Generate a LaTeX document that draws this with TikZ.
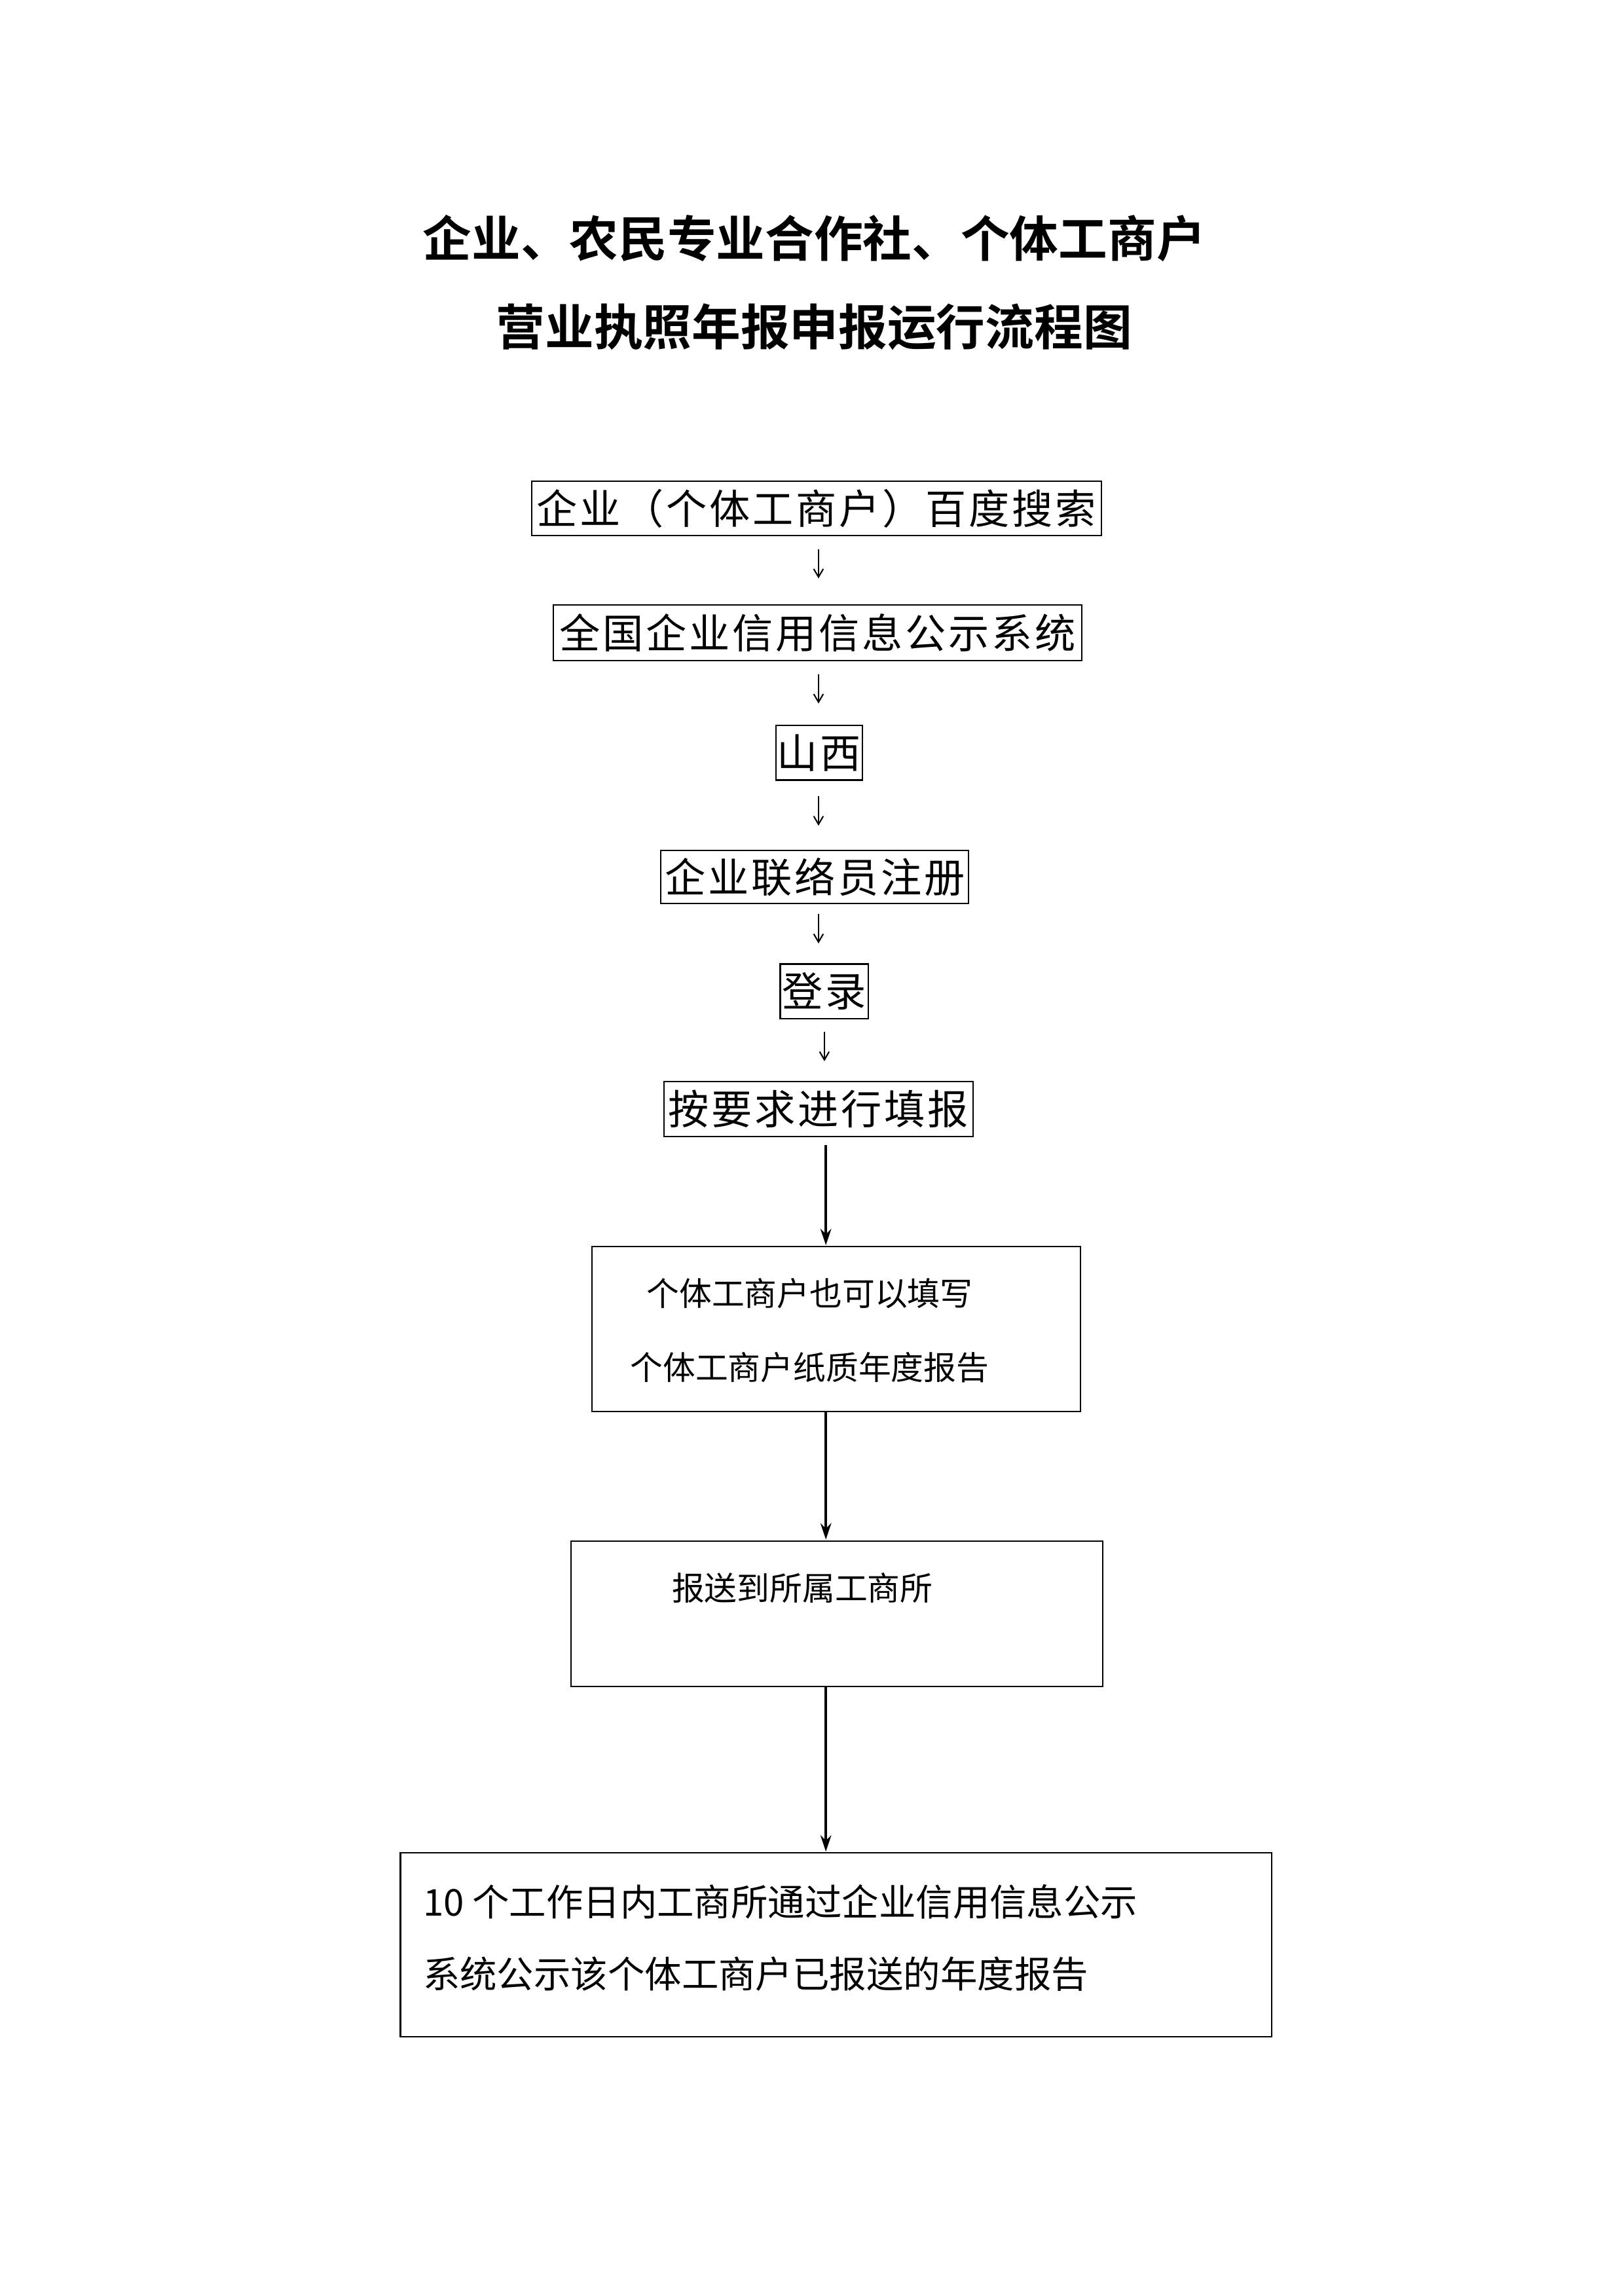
\documentclass[tikz,border=0pt]{standalone}
\usepackage{fontspec}
\newfontfamily\cjk{Noto Sans CJK SC}
\newfontfamily\cjkb{Noto Sans CJK SC Bold}
\newfontfamily\cjksp{Noto Sans CJK SC}[LetterSpace=6]
\usetikzlibrary{arrows.meta}
\begin{document}
\begin{tikzpicture}[x=0.1904mm,y=-0.1904mm,
  bx/.style={draw,line width=0.5pt},
  big/.style={font=\cjksp\fontsize{15}{18}\selectfont,inner sep=0pt},
  sm/.style={font=\cjk\fontsize{12}{14}\selectfont,inner sep=0pt},
  lg/.style={font=\cjk\fontsize{13.6}{16}\selectfont,inner sep=0pt},
  tt/.style={font=\cjkb\fontsize{18}{22}\selectfont,inner sep=0pt},
  ar/.style={-{Stealth[length=6pt,width=4pt]},line width=0.9pt},
  sar/.style={-{Straight Barb[length=3pt,width=3.5pt]},line width=0.5pt}]
\useasboundingbox (0,0) rectangle (1103,1560);
\node[tt] (t1) at (553,162) {企业、农民专业合作社、个体工商户};
\node[tt] (t2) at (553,222) {营业执照年报申报运行流程图};
\draw[bx] (361,327) rectangle (748,364); \node[big] (b1) at (554.5,345.5) {企业（个体工商户）百度搜索};
\draw[bx] (376,411) rectangle (735,449); \node[big] (b2) at (555.5,430) {全国企业信用信息公示系统};
\draw[bx] (527,493) rectangle (586,530); \node[big] (b3) at (556.5,511.5) {山西};
\draw[bx] (449,578) rectangle (658,614); \node[big] (b4) at (553.5,596) {企业联络员注册};
\draw[bx] (530,655) rectangle (590,692); \node[big] (b5) at (560,673.5) {登录};
\draw[bx] (451,735) rectangle (661,772); \node[big] (b6) at (556,753.5) {按要求进行填报};
\coordinate (a1s) at (556,373); \coordinate (a1e) at (556,393);
\coordinate (a2s) at (556,458); \coordinate (a2e) at (556,478);
\coordinate (a3s) at (556,541); \coordinate (a3e) at (556,561);
\coordinate (a4s) at (556,621); \coordinate (a4e) at (556,641);
\coordinate (a5s) at (560,701); \coordinate (a5e) at (560,721);
\draw[sar] (a1s) -- (a1e);
\draw[sar] (a2s) -- (a2e);
\draw[sar] (a3s) -- (a3e);
\draw[sar] (a4s) -- (a4e);
\draw[sar] (a5s) -- (a5e);
\draw[bx] (402,847) rectangle (734,959);
\node[sm] (c1) at (550,879) {个体工商户也可以填写};
\node[sm] (c2) at (550,929) {个体工商户纸质年度报告};
\draw[bx] (388,1047) rectangle (749,1146);
\node[sm] (d1) at (545,1079) {报送到所属工商所};
\draw[bx] (272,1259) rectangle (864,1384);
\node[lg,anchor=west] (e1) at (287,1292) {10 个工作日内工商所通过企业信用信息公示};
\node[lg,anchor=west] (e2) at (287,1341) {系统公示该个体工商户已报送的年度报告};
\coordinate (p1) at (561,778); \coordinate (p2) at (561,846);
\coordinate (p3) at (561,959); \coordinate (p4) at (561,1046);
\coordinate (p5) at (561,1146); \coordinate (p6) at (561,1258);
\draw[ar] (p1) -- (p2);
\draw[ar] (p3) -- (p4);
\draw[ar] (p5) -- (p6);
\end{tikzpicture}
\end{document}
